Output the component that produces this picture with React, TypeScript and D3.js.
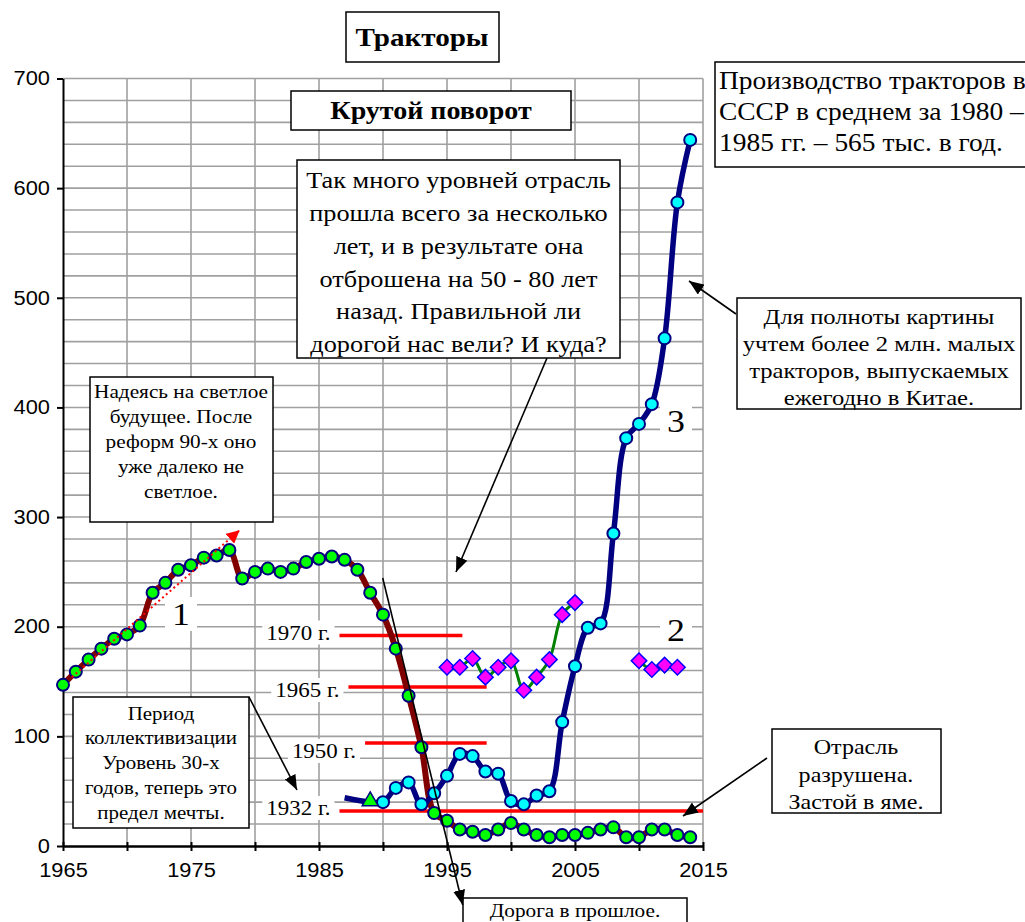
import { useEffect, useRef } from 'react'
import * as d3 from 'd3'

// Series 1 — tractor output, 1965–2014
const years1 = [
  1965, 1966, 1967, 1968, 1969, 1970, 1971, 1972, 1973, 1974,
  1975, 1976, 1977, 1978, 1979, 1980, 1981, 1982, 1983, 1984,
  1985, 1986, 1987, 1988, 1989, 1990, 1991, 1992, 1993, 1994,
  1995, 1996, 1997, 1998, 1999, 2000, 2001, 2002, 2003, 2004,
  2005, 2006, 2007, 2008, 2009, 2010, 2011, 2012, 2013, 2014
]
const values1 = [
  147, 159, 170, 180, 189, 193, 201, 231, 240, 252,
  256, 263, 265, 270, 244, 250, 253, 250, 253, 259,
  262, 264, 261, 252, 231, 211, 180, 137, 90, 30,
  23, 15, 13, 10, 15, 21, 15, 10, 8, 10,
  10, 12, 15, 17, 8, 8, 15, 15, 10, 8
]

// Series 2 — diamonds (gap 2006–2009)
const years2 = [
  1995, 1996, 1997, 1998, 1999, 2000, 2001, 2002, 2003, 2004,
  2005, 2006, 2007, 2008, 2009, 2010, 2011, 2012, 2013
]
const values2 = [
  163, 163, 171, 154, 163, 169, 142, 154, 170, 211,
  222, null, null, null, null, 169, 161, 165, 163
]

// Series 3 — navy line
const years3 = [
  1987, 1989, 1990, 1991, 1992, 1993, 1994, 1995, 1996, 1997,
  1998, 1999, 2000, 2001, 2002, 2003, 2004, 2005, 2006, 2007,
  2008, 2009, 2010, 2011, 2012, 2013, 2014
]
const values3 = [
  44, 40, 40, 53, 58, 38, 48, 64, 84, 82,
  68, 66, 41, 38, 46, 50, 113, 164, 199, 203,
  285, 372, 385, 403, 463, 587, 644
]
const markers3 = [
  'none', 'triangle', 'circle', 'circle', 'circle', 'circle', 'circle', 'circle', 'circle', 'circle',
  'circle', 'circle', 'circle', 'circle', 'circle', 'circle', 'circle', 'circle', 'circle', 'circle',
  'circle', 'circle', 'circle', 'circle', 'circle', 'circle', 'circle'
]

// reference levels (red lines)
const refLabels = ['1970 г.', '1965 г.', '1950 г.', '1932 г.']
const refValues = [192, 145, 94, 32]
const refFrom = [1986.6, 1987.3, 1988.6, 1986.6]
const refTo = [1996.2, 1998.1, 1998.1, 2015]

const yTicks = [0, 100, 200, 300, 400, 500, 600, 700]
const xTicks = [1965, 1970, 1975, 1980, 1985, 1990, 1995, 2000, 2005, 2010, 2015]

const serif = "'Liberation Serif', 'Times New Roman', serif"
const sans = "'Liberation Sans', Arial, sans-serif"
const SX = 1.12 // the original is a bit stretched horizontally

const App = () => {
  const svgRef = useRef<SVGSVGElement>(null)

  useEffect(() => {
    const width = 1025
    const height = 922
    const svg = d3.select(svgRef.current)
    svg.selectAll('*').remove()
    svg.attr('width', width).attr('height', height)

    const x = d3.scaleLinear().domain([1965, 2015]).range([63, 703])
    const y = d3.scaleLinear().domain([0, 700]).range([846, 78.5])

    const defs = svg.append('defs')
    const mk = (id, color, w, h) => {
      defs.append('marker')
        .attr('id', id)
        .attr('markerUnits', 'userSpaceOnUse')
        .attr('markerWidth', w)
        .attr('markerHeight', h)
        .attr('refX', w)
        .attr('refY', h / 2)
        .attr('orient', 'auto')
        .append('path')
        .attr('d', `M0,0 L${w},${h / 2} L0,${h} Z`)
        .attr('fill', color)
    }
    mk('arrBlack', '#000', 15, 12)
    mk('arrRed', '#ff0000', 13, 13)

    const label = (g, s, tx, ty, size, anchor = 'middle', weight = 'normal', fam = serif) =>
      g.append('text')
        .attr('transform', `translate(${tx},${ty}) scale(${SX},1)`)
        .attr('dy', '0.35em')
        .attr('text-anchor', anchor)
        .attr('font-family', fam)
        .attr('font-size', size)
        .attr('font-weight', weight)
        .attr('fill', '#000')
        .text(s)

    // grid
    const grid = svg.append('g').attr('stroke', '#a0a0a0').attr('stroke-width', 1.6)
    grid.selectAll('line.h')
      .data(d3.range(20, 701, 20))
      .join('line')
      .attr('x1', x(1965)).attr('x2', x(2015))
      .attr('y1', d => y(d)).attr('y2', d => y(d))
    grid.selectAll('line.v')
      .data(d3.range(1970, 2016, 5))
      .join('line')
      .attr('x1', d => x(d)).attr('x2', d => x(d))
      .attr('y1', y(0)).attr('y2', y(700))

    // axes
    const yAxis = svg.append('g')
      .attr('transform', `translate(${x(1965)},0)`)
      .call(d3.axisLeft(y).tickValues(yTicks).tickSize(6).tickSizeOuter(0).tickPadding(7))
    yAxis.select('.domain').attr('stroke', '#000').attr('stroke-width', 2)
    yAxis.selectAll('.tick line').attr('stroke', '#000').attr('stroke-width', 2)
    yAxis.selectAll('text').attr('font-family', sans).attr('font-size', 19.5).attr('fill', '#000')
      .attr('x', -13 / SX).attr('transform', `scale(${SX},1)`)

    const xAxis = svg.append('g')
      .attr('transform', `translate(0,${y(0)})`)
      .call(d3.axisBottom(x).tickValues(xTicks).tickSizeOuter(0)
        .tickFormat(d => ((d as number) % 10 === 5 ? String(d) : '')))
    xAxis.select('.domain').attr('stroke', '#000').attr('stroke-width', 2.5)
    xAxis.selectAll('.tick line').attr('stroke', '#000').attr('stroke-width', 2).attr('y1', -4).attr('y2', 5)
    xAxis.selectAll('text').attr('font-family', sans).attr('font-size', 19.5).attr('fill', '#000')
      .attr('y', 24).attr('dy', '0.35em').attr('transform', `scale(${SX},1)`)

    // reference levels
    const refShift = [-3, 3, 8, -3]
    const refG = svg.append('g')
    refValues.forEach((v, i) => {
      refG.append('line')
        .attr('x1', x(refFrom[i])).attr('x2', x(refTo[i]))
        .attr('y1', y(v)).attr('y2', y(v))
        .attr('stroke', '#ff0000').attr('stroke-width', 3.5)
      const bg = refG.append('rect').attr('fill', '#fff')
      const tx = x(refFrom[i]) - 9
      const ty = y(v) + refShift[i]
      const t = label(refG, refLabels[i], tx, ty, 20.5, 'end')
      const len = (t.node() as SVGTextElement).getComputedTextLength() * SX
      bg.attr('x', tx - len - 4).attr('width', len + 8)
        .attr('y', ty - 12).attr('height', 24)
    })

    // number labels 1, 2, 3
    const numLabels = [['1', 181, 614], ['2', 676, 630], ['3', 676, 421]]
    numLabels.forEach(([s, cx, cy]) => {
      svg.append('rect').attr('x', +cx - 16).attr('y', +cy - 17).attr('width', 32).attr('height', 34).attr('fill', '#fff')
      label(svg, s, cx, cy, 32)
    })

    const curve = d3.curveCatmullRom.alpha(0.5)

    // series 1
    const d1 = years1.map((yr, i) => ({ yr, v: values1[i] }))
    svg.append('path')
      .datum(d1)
      .attr('fill', 'none').attr('stroke', '#800000').attr('stroke-width', 6)
      .attr('stroke-linejoin', 'round')
      .attr('d', d3.line<any>().x(d => x(d.yr)).y(d => y(d.v)).curve(curve))

    // series 3
    const d3s = years3.map((yr, i) => ({ yr, v: values3[i], m: markers3[i] }))
    svg.append('path')
      .datum(d3s)
      .attr('fill', 'none').attr('stroke', '#000080').attr('stroke-width', 5.5)
      .attr('stroke-linejoin', 'round')
      .attr('d', d3.line<any>().x(d => x(d.yr)).y(d => y(d.v)).curve(curve))

    // series 2
    const d2 = years2.map((yr, i) => ({ yr, v: values2[i] }))
    svg.append('path')
      .datum(d2)
      .attr('fill', 'none').attr('stroke', '#008000').attr('stroke-width', 3)
      .attr('d', d3.line<any>().defined(d => d.v != null).x(d => x(d.yr)).y(d => y(d.v)).curve(curve))

    // markers
    svg.append('g').selectAll('circle')
      .data(d1)
      .join('circle')
      .attr('cx', d => x(d.yr)).attr('cy', d => y(d.v)).attr('r', 6)
      .attr('fill', '#00ff00').attr('stroke', '#000080').attr('stroke-width', 2)

    svg.append('g').selectAll('circle')
      .data(d3s.filter(d => d.m === 'circle'))
      .join('circle')
      .attr('cx', d => x(d.yr)).attr('cy', d => y(d.v)).attr('r', 6)
      .attr('fill', '#00ffff').attr('stroke', '#000080').attr('stroke-width', 2)

    svg.append('g').selectAll('path')
      .data(d3s.filter(d => d.m === 'triangle'))
      .join('path')
      .attr('transform', d => `translate(${x(d.yr)},${y(d.v) - 1})`)
      .attr('d', d3.symbol().type(d3.symbolTriangle).size(110)())
      .attr('fill', '#00ff00').attr('stroke', '#000080').attr('stroke-width', 1.5)

    svg.append('g').selectAll('path')
      .data(d2.filter(d => d.v != null))
      .join('path')
      .attr('transform', d => `translate(${x(d.yr)},${y(d.v)}) rotate(45)`)
      .attr('d', d3.symbol().type(d3.symbolSquare).size(120)())
      .attr('fill', '#ff00ff').attr('stroke', '#0000ff').attr('stroke-width', 1.5)

    // red dotted "hope" arrow
    svg.append('line')
      .attr('x1', x(1965.7)).attr('y1', y(154))
      .attr('x2', x(1978.8)).attr('y2', y(288))
      .attr('stroke', '#ff0000').attr('stroke-width', 2).attr('stroke-dasharray', '2,3')
      .attr('marker-end', 'url(#arrRed)')

    // text boxes
    const boxes = [
      { x: 346, y: 12, w: 153, h: 50, cx: 422, y0: 37, lh: 0, size: 26, bold: true, lines: ['Тракторы'] },
      { x: 291, y: 91, w: 280, h: 39, cx: 431, y0: 110, lh: 0, size: 25, bold: true, lines: ['Крутой поворот'] },
      {
        x: 297, y: 160, w: 323, h: 198, cx: 458.5, y0: 180, lh: 32.8, size: 23.5,
        lines: ['Так много уровней отрасль', 'прошла всего за несколько', 'лет, и в результате она',
          'отброшена на 50 - 80 лет', 'назад. Правильной ли', 'дорогой нас вели? И куда?']
      },
      {
        x: 715, y: 62, w: 320, h: 105, cx: 719, y0: 80, lh: 31, size: 24.5, left: true,
        lines: ['Производство тракторов в', 'СССР в среднем за 1980 –', '1985 гг. – 565 тыс. в год.']
      },
      {
        x: 737, y: 298, w: 284, h: 111, cx: 879, y0: 316.7, lh: 26.7, size: 22,
        lines: ['Для полноты картины', 'учтем более 2 млн. малых', 'тракторов, выпускаемых', 'ежегодно в Китае.']
      },
      {
        x: 90, y: 377, w: 183, h: 145, cx: 181, y0: 391.7, lh: 24.9, size: 19,
        lines: ['Надеясь на светлое', 'будущее. После', 'реформ 90-х оно', 'уже далеко не', 'светлое.']
      },
      {
        x: 73, y: 697, w: 176, h: 131, cx: 161, y0: 713, lh: 24.8, size: 18.7,
        lines: ['Период', 'коллективизации', 'Уровень 30-х', 'годов, теперь это', 'предел мечты.']
      },
      {
        x: 772, y: 729, w: 169, h: 84, cx: 856, y0: 746.7, lh: 27.5, size: 21.5,
        lines: ['Отрасль', 'разрушена.', 'Застой в яме.']
      },
      { x: 463, y: 898, w: 224, h: 40, cx: 575, y0: 910, lh: 0, size: 19, lines: ['Дорога в прошлое.'] }
    ]

    // black arrows
    const arrows = [
      [547, 358, 456, 572],
      [736, 314, 689, 281],
      [249, 697, 297, 790],
      [767, 758, 683, 816],
      [382.7, 578, 462.7, 905]
    ]

    const annG = svg.append('g')
    boxes.forEach(b => {
      annG.append('rect')
        .attr('x', b.x).attr('y', b.y).attr('width', b.w).attr('height', b.h)
        .attr('fill', '#fff').attr('stroke', '#000').attr('stroke-width', 1.5)
      b.lines.forEach((ln, i) => {
        label(annG, ln, b.cx, b.y0 + i * b.lh, b.size, b.left ? 'start' : 'middle', b.bold ? 'bold' : 'normal')
      })
    })
    arrows.forEach(([x1, y1, x2, y2]) => {
      annG.append('line')
        .attr('x1', x1).attr('y1', y1).attr('x2', x2).attr('y2', y2)
        .attr('stroke', '#000').attr('stroke-width', 1.6)
        .attr('marker-end', 'url(#arrBlack)')
    })
  }, [])

  return (
    <svg
      ref={svgRef}
      style={{ position: 'absolute', left: 0, top: 0, background: '#fff' }}
    ></svg>
  )
}

export default App
